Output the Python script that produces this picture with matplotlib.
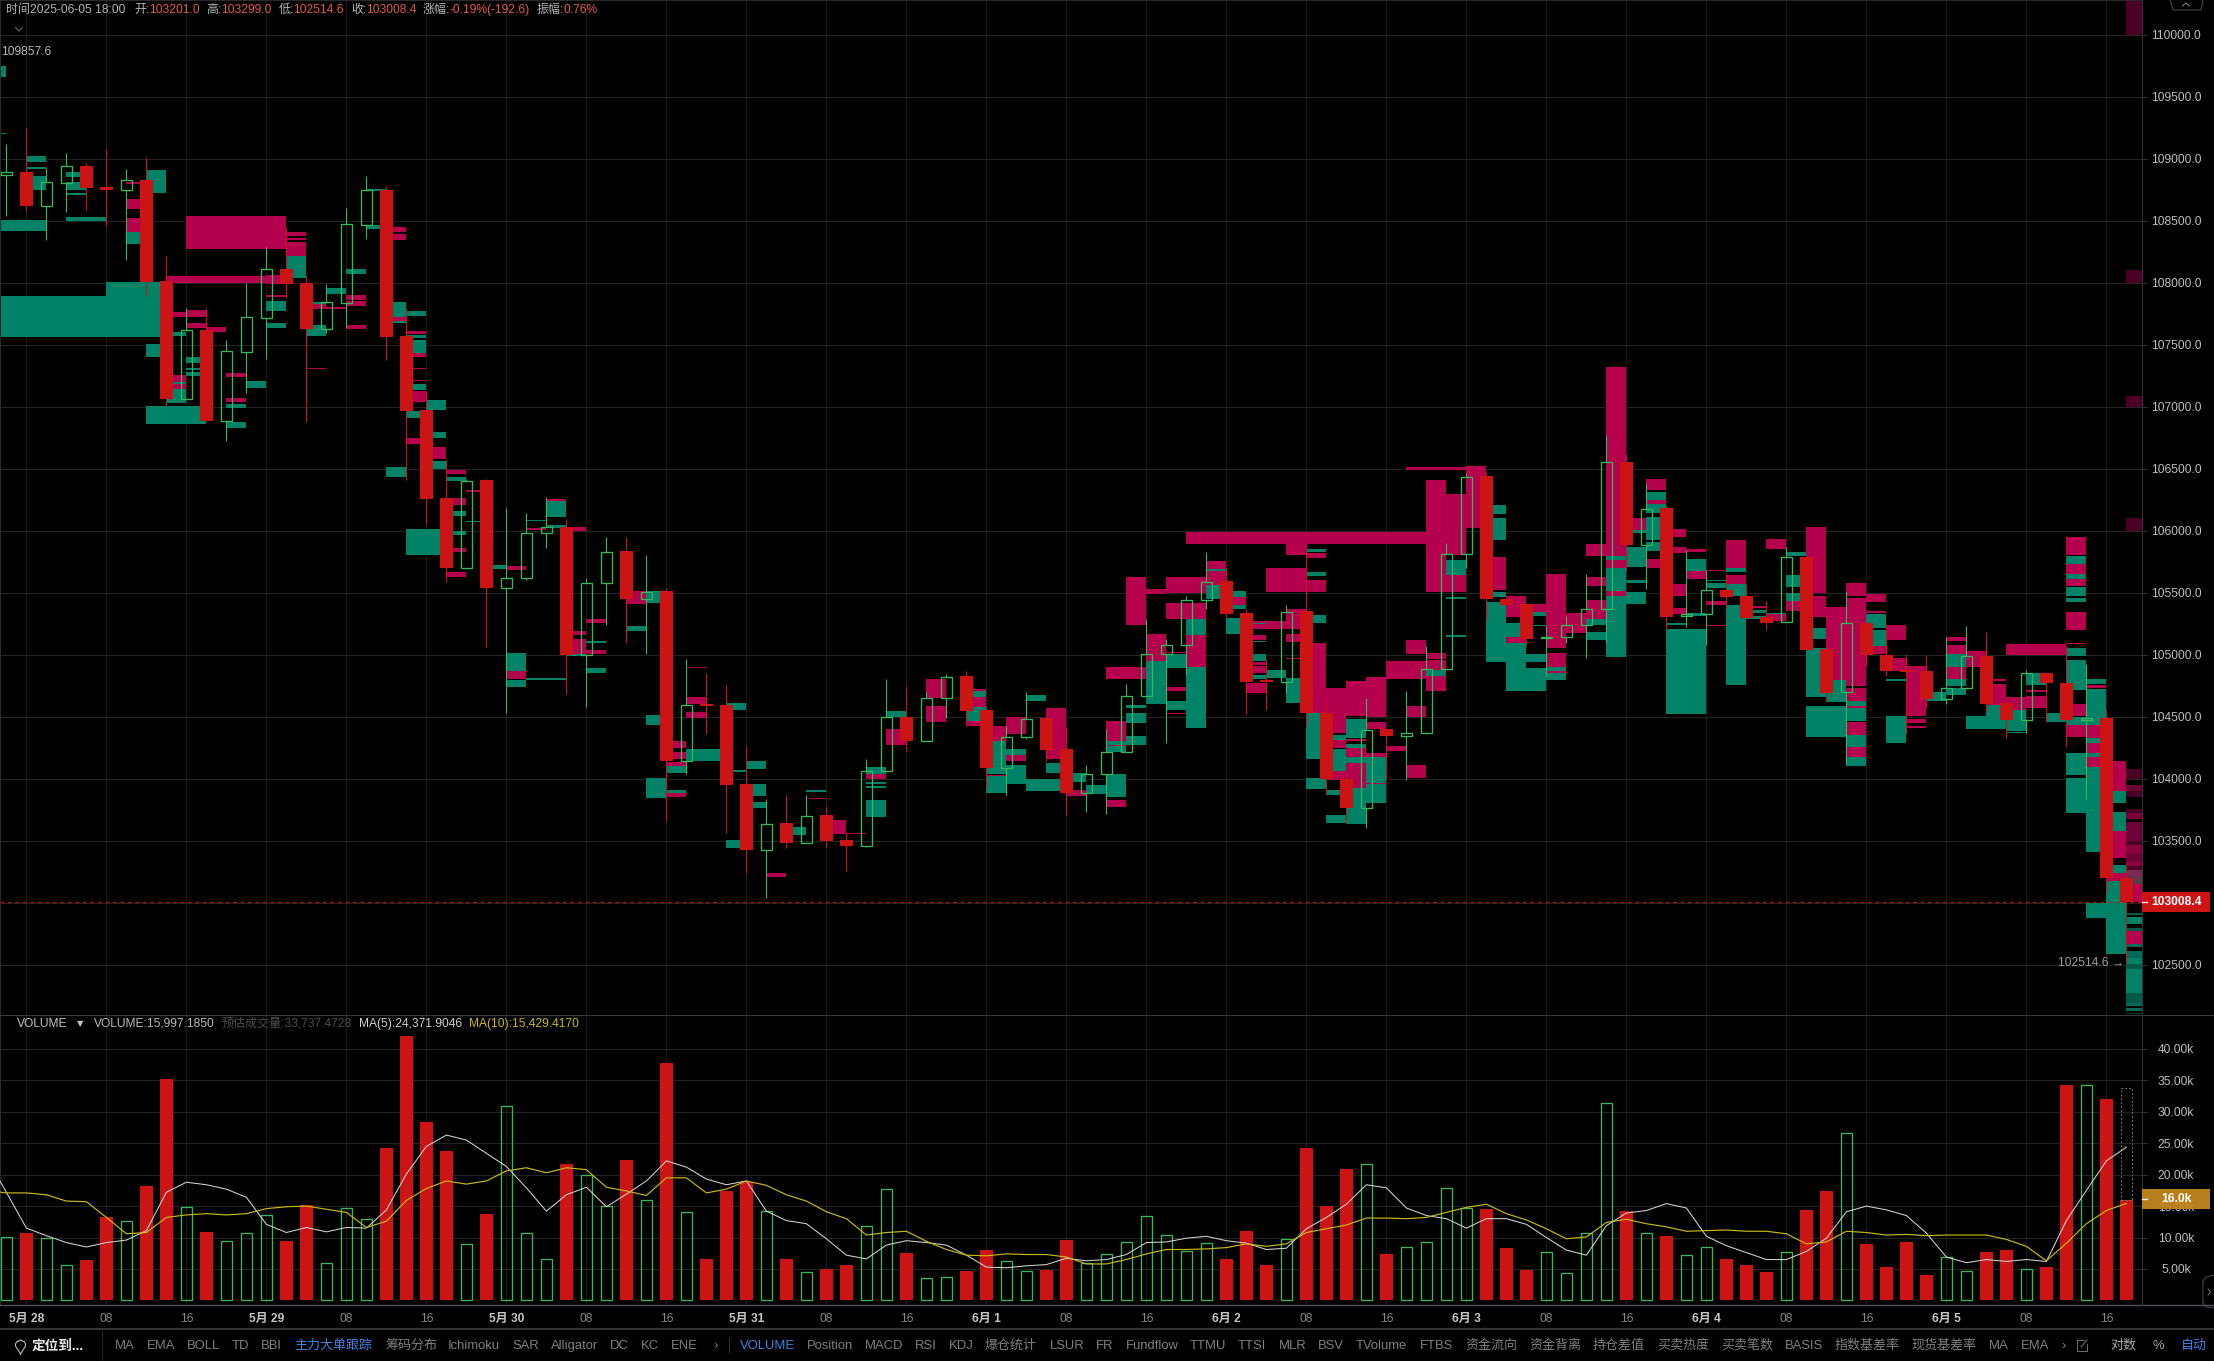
import numpy as np
import matplotlib
matplotlib.use("Agg")
import matplotlib.pyplot as plt
from matplotlib.lines import Line2D
from matplotlib.patches import Rectangle

plt.rcParams['font.family'] = ['Liberation Sans', 'Noto Sans CJK SC', 'DejaVu Sans']

# candles, index -1 .. 105 (2h bars, index 0 = 5月28 00:00)
opens = [108871, 108893, 108621, 108807, 108941, 108772, 108750, 108828, 108014, 107065, 107618, 106887, 107444, 107718, 108108, 107997, 107629, 107839, 108468, 108747,
         107570, 106973, 106261, 105699, 106406, 105538, 105618, 105981, 106032, 104997, 105578, 105833, 105449, 105511, 104143, 104600, 104592, 103954, 103428, 103640,
         103484, 103704, 103503, 103457, 104062, 104500, 104304, 104651, 104825, 104551, 104086, 104336, 104487, 104237, 103885, 104038, 104215, 104667, 105005, 105078,
         105441, 105592, 105333, 104793, 104780, 105350, 104532, 104000, 103764, 104398, 104344, 104368, 104884, 105810, 106440, 105448, 105408, 105132, 105140, 105237,
         105365, 106552, 105888, 106183, 105309, 105325, 105523, 105475, 105306, 105261, 105789, 105049, 104698, 105255, 104998, 104880, 104872, 104642, 104730, 104993,
         104607, 104473, 104853, 104773, 104476, 104492, 103201.0]
highs = [109118, 109255, 108927, 109043, 108962, 109078, 108917, 109016, 108215, 107793, 107793, 107538, 108000, 108290, 108452, 108062, 107987, 108600, 108863, 108780,
         107793, 107121, 106575, 106420, 106415, 106180, 106145, 106274, 106091, 105621, 105946, 105952, 105801, 105535, 104962, 104855, 104753, 104264, 103833, 103866,
         103866, 103777, 103565, 104156, 104807, 104747, 104702, 104841, 104866, 104586, 104425, 104702, 104490, 104411, 104110, 104398, 104766, 105290, 105124, 105473,
         105831, 105702, 105366, 104962, 105403, 105903, 104626, 104050, 104651, 104400, 104704, 105070, 105898, 106467, 106472, 105448, 105408, 105234, 105309, 105649,
         106775, 106622, 106381, 106207, 105845, 105684, 105650, 105569, 105430, 105872, 105789, 105049, 105510, 105255, 105250, 105009, 104987, 105140, 105229, 105186,
         104607, 104880, 104853, 105073, 104922, 104551, 103299.0]
lows = [108538, 108581, 108344, 108573, 108586, 108457, 108183, 107893, 107006, 107065, 106885, 106726, 107108, 107382, 107879, 106879, 107592, 107632, 108352, 107377,
        106409, 106056, 105586, 105690, 105059, 104527, 105602, 105858, 104686, 104575, 105242, 105097, 105003, 103656, 104035, 104358, 103559, 103237, 103038, 103438,
        103484, 103438, 103256, 103450, 104062, 104221, 104304, 104492, 104428, 103914, 103866, 104317, 104143, 103710, 103731, 103712, 104215, 104667, 104285, 104841,
        105366, 105293, 104524, 104554, 104694, 104425, 103866, 103640, 103605, 103989, 103989, 104368, 104884, 105703, 105282, 105403, 105068, 104827, 105095, 104971,
        105095, 105679, 105529, 105207, 105223, 105076, 105373, 105298, 105202, 105261, 105041, 104626, 104116, 104907, 104827, 104358, 104572, 104599, 104730, 104545,
        104331, 104371, 104457, 104258, 103833, 103081, 102514.6]
closes = [108893, 108621, 108809, 108938, 108764, 108750, 108825, 108008, 107062, 107616, 106885, 107446, 107721, 108108, 107989, 107626, 107841, 108471, 108745, 107562,
          106965, 106253, 105696, 106403, 105535, 105621, 105984, 106032, 104997, 105581, 105831, 105449, 105508, 104143, 104597, 104583, 103949, 103425, 103637, 103481,
          103702, 103497, 103454, 104065, 104500, 104301, 104653, 104823, 104543, 104083, 104339, 104484, 104229, 103882, 104040, 104218, 104669, 105008, 105081, 105444,
          105589, 105325, 104777, 104777, 105347, 104530, 103995, 103761, 104395, 104342, 104371, 104887, 105815, 106437, 105446, 105403, 105129, 105145, 105239, 105368,
          106550, 105885, 106172, 105306, 105328, 105521, 105467, 105298, 105255, 105786, 105041, 104695, 105255, 104995, 104867, 104864, 104642, 104733, 104993, 104601,
          104470, 104853, 104768, 104470, 104492, 103199, 103008.4]

# volume in thousands, same index as the candles
volumes = [10.1, 10.65, 9.96, 5.68, 6.37, 13.34, 12.65, 18.25, 35.2, 14.87, 10.96, 9.48, 10.75, 13.6, 9.38, 15.24, 6.0, 14.71, 12.97, 24.27,
           42.02, 28.34, 23.8, 9.0, 13.81, 31.0, 10.75, 6.63, 21.68, 19.94, 15.03, 22.37, 15.98, 37.75, 14.08, 6.52, 17.46, 18.78, 14.24, 6.52,
           4.57, 4.94, 5.57, 11.86, 17.72, 7.47, 3.62, 3.78, 4.62, 7.95, 6.31, 4.73, 4.78, 9.54, 6.0, 7.42, 9.32, 13.44, 10.43, 7.9,
           9.17, 6.52, 11.12, 5.57, 9.8, 24.27, 15.08, 20.94, 21.68, 7.32, 8.53, 9.32, 17.88, 14.71, 14.6, 8.27, 4.78, 7.74, 4.41, 10.75,
           31.35, 14.29, 10.75, 10.17, 7.26, 8.53, 6.52, 5.57, 4.46, 7.74, 14.45, 17.46, 26.6, 8.9, 5.26, 9.22, 3.99, 6.95, 4.73, 7.63,
           7.95, 5.05, 5.26, 34.26, 34.2, 32.0, 15.997]
volume_estimate = 33.737

# moving averages, index -2 .. 105
ma5 = [22.7, 17.2, 11.5, 10.3, 9.2, 8.5, 9.2, 9.6, 11.1, 17.2, 18.8, 18.4, 17.7, 16.4, 12.1, 10.8, 11.6, 10.9, 11.6, 11.5,
       14.4, 20.1, 24.5, 26.3, 25.5, 23.4, 21.3, 17.9, 14.2, 16.8, 18.0, 14.9, 16.9, 19.0, 22.2, 21.2, 19.3, 18.4, 19.0, 14.2,
       12.7, 12.2, 9.8, 7.2, 6.6, 8.8, 9.5, 9.2, 8.8, 7.2, 5.3, 5.2, 5.5, 5.7, 6.7, 6.3, 6.5, 7.3, 9.2, 9.3,
       9.9, 10.2, 9.5, 9.1, 8.1, 8.3, 11.4, 13.2, 15.3, 18.4, 17.9, 14.7, 13.5, 13.0, 11.5, 13.0, 13.0, 12.1, 10.0, 8.0,
       7.2, 11.9, 13.9, 14.3, 15.4, 14.7, 10.2, 8.7, 7.6, 6.5, 6.5, 7.8, 9.9, 14.1, 15.0, 14.4, 13.5, 10.7, 6.9, 6.0,
       6.5, 6.2, 6.5, 6.2, 12.7, 17.5, 22.2, 24.37]
ma10 = [17.5, 17.1, 17.1, 16.8, 15.8, 15.7, 13.2, 10.6, 10.8, 13.2, 13.6, 13.8, 13.6, 13.8, 14.6, 14.9, 15.0, 14.5, 14.0, 11.6,
        12.6, 15.9, 17.8, 19.0, 18.5, 19.0, 20.6, 21.1, 20.3, 21.1, 20.8, 18.0, 17.4, 16.7, 19.5, 19.5, 17.1, 17.7, 19.0, 18.3,
        16.8, 15.8, 14.1, 13.0, 10.4, 10.8, 11.0, 9.4, 8.1, 7.2, 7.1, 7.4, 7.3, 7.3, 6.9, 5.8, 5.8, 6.5, 7.4, 8.1,
        8.1, 8.2, 8.4, 9.0, 8.6, 9.0, 10.8, 11.4, 12.0, 13.1, 13.1, 13.0, 13.2, 14.0, 14.8, 15.3, 13.8, 12.8, 11.4, 9.8,
        10.1, 12.4, 12.9, 12.2, 11.7, 11.0, 11.1, 11.2, 11.0, 11.0, 10.6, 9.0, 9.3, 11.0, 10.8, 10.4, 10.5, 10.3, 10.4, 10.4,
        10.4, 9.7, 8.6, 6.3, 9.1, 12.2, 14.3, 15.43]

# big order blocks as (first bar, last bar, top price, bottom price)
buy_blocks = [
    (-2, -1, 109747, 109661), (-2, -1, 109207, 109196), (0, 1, 109022, 108976), (0, 1, 108930, 108917), (0, 1, 108860, 108747),
    (-2, 1, 108508, 108417), (2, 3, 108890, 108852), (2, 3, 108809, 108747), (2, 3, 108726, 108710), (2, 4, 108530, 108500),
    (5, 6, 108411, 108315), (6, 7, 108909, 108726), (13, 14, 108215, 108038), (-2, 7, 107893, 107559), (4, 7, 108005, 107893),
    (12, 13, 107852, 107772), (12, 13, 107675, 107635), (15, 16, 107957, 107911), (14, 15, 107656, 107573), (14, 15, 107847, 107828),
    (16, 17, 108108, 108073), (17, 18, 108753, 108737), (17, 18, 108468, 108436), (18, 19, 107844, 107726), (18, 19, 107688, 107672),
    (19, 20, 107769, 107734), (19, 20, 107578, 107551), (19, 20, 107535, 107433), (19, 20, 107180, 107135), (19, 20, 106968, 106912),
    (20, 21, 107054, 106971), (20, 21, 106793, 106745), (6, 7, 107505, 107398), (6, 9, 107006, 106858), (7, 8, 107140, 107032),
    (7, 8, 107202, 107183), (7, 8, 107605, 107573), (8, 9, 107398, 107355), (8, 9, 107309, 107296), (8, 9, 107280, 107250),
    (10, 11, 107022, 106989), (10, 11, 106874, 106831), (11, 12, 107207, 107153),
    (18, 19, 106511, 106433), (20, 21, 106564, 106500), (21, 22, 106433, 106398), (21, 22, 106156, 106116), (21, 22, 106000, 105968),
    (19, 21, 106011, 105801), (22, 23, 106081, 106070), (23, 24, 105726, 105691), (24, 25, 105011, 104866), (24, 25, 104796, 104737),
    (25, 27, 104809, 104796), (25, 26, 106089, 106078), (26, 27, 106237, 106113), (26, 27, 106043, 106021), (27, 28, 105003, 104989),
    (28, 29, 105108, 105097), (28, 29, 104890, 104852), (30, 31, 105229, 105194), (31, 32, 105516, 105417), (31, 32, 104511, 104433),
    (31, 32, 104003, 103841), (32, 33, 104102, 104043), (32, 33, 103909, 103882), (33, 35, 104237, 104145), (35, 36, 104608, 104554),
    (35, 36, 104070, 104054), (35, 36, 103503, 103441),
    (36, 37, 104143, 104081), (36, 37, 103954, 103860), (36, 37, 103809, 103763), (38, 39, 103608, 103549), (39, 40, 103906, 103895),
    (42, 43, 104091, 104035), (42, 43, 103970, 103954), (42, 43, 103938, 103922), (42, 43, 103825, 103691), (43, 44, 104543, 104500),
    (47, 48, 104707, 104661), (47, 48, 104581, 104465), (48, 49, 104304, 104035), (48, 49, 104022, 103887), (49, 50, 104237, 104194),
    (49, 50, 104113, 103954), (50, 51, 104677, 104624), (50, 52, 104000, 103898), (51, 52, 104129, 104043), (52, 53, 104043, 103973),
    (53, 54, 103949, 103874), (54, 55, 104040, 103855), (54, 55, 104304, 104269), (54, 55, 104261, 104218), (55, 56, 104594, 104567),
    (55, 56, 104527, 104446), (55, 56, 104344, 104269), (56, 57, 104952, 104600), (57, 58, 105003, 104890), (57, 58, 104629, 104551),
    (58, 59, 105290, 105156), (58, 59, 104901, 104409), (59, 60, 105691, 105677), (59, 60, 105559, 105452), (60, 61, 105511, 105468),
    (60, 61, 105403, 105368), (60, 61, 105296, 105167), (61, 62, 105253, 105245), (61, 62, 105113, 105100), (61, 62, 105008, 104946),
    (61, 62, 104836, 104801), (64, 65, 105850, 105825), (64, 65, 105669, 105635), (62, 63, 104874, 104809), (63, 64, 104809, 104613),
    (64, 65, 105320, 105253), (64, 65, 104532, 104156), (64, 65, 104003, 103914), (65, 66, 104355, 104312), (65, 66, 104242, 104062),
    (65, 66, 103906, 103871), (65, 66, 103710, 103640), (66, 67, 104479, 104331), (66, 67, 104277, 104250), (66, 67, 104178, 104129),
    (66, 67, 103927, 103632), (67, 68, 104178, 103962), (67, 68, 103954, 103806), (70, 71, 104876, 104828), (71, 72, 105761, 105645),
    (71, 72, 105462, 105449), (71, 72, 105161, 105142),
    (73, 74, 106204, 106134), (73, 74, 106102, 105925), (73, 74, 105507, 105464), (73, 74, 105429, 104939), (74, 75, 105252, 105140),
    (74, 75, 105094, 104706), (75, 76, 105346, 105309), (75, 76, 105242, 105228), (75, 76, 105006, 104939), (75, 76, 104893, 104706),
    (76, 77, 104901, 104872), (76, 77, 104853, 104794), (78, 79, 105287, 105239), (78, 79, 105185, 105121), (79, 80, 105799, 105764),
    (79, 80, 105700, 105510), (79, 80, 105475, 104979), (80, 81, 106005, 105979), (80, 81, 105871, 105705), (80, 81, 105603, 105577),
    (80, 81, 105504, 105410), (81, 82, 106314, 106247), (81, 82, 106214, 106139), (81, 82, 106107, 105925), (81, 82, 105912, 105839),
    (82, 83, 105255, 105242), (82, 84, 105207, 104518), (83, 84, 105772, 105678), (83, 84, 105335, 105309), (84, 85, 105603, 105593),
    (84, 85, 105582, 105536), (85, 86, 105700, 105665), (85, 86, 105571, 105475), (85, 86, 105402, 104759), (86, 87, 105362, 105335),
    (86, 87, 105309, 105287), (87, 88, 105335, 105327), (88, 89, 105826, 105796), (88, 89, 105643, 105544), (88, 89, 105496, 105435),
    (89, 90, 105217, 105129), (89, 90, 105054, 104660), (89, 91, 104590, 104338), (90, 91, 104799, 104620), (91, 92, 104625, 104585),
    (91, 92, 104569, 104462), (91, 92, 104352, 104255), (91, 92, 104175, 104102), (92, 93, 105330, 105215), (92, 93, 105196, 105073),
    (93, 94, 104807, 104789), (93, 94, 104505, 104285), (95, 96, 104698, 104625), (96, 97, 105008, 104901), (96, 97, 104805, 104751),
    (96, 97, 104735, 104671), (97, 99, 104505, 104398), (98, 99, 104598, 104398), (99, 100, 104558, 104384), (99, 100, 104376, 104365),
    (100, 101, 104853, 104759), (101, 102, 104526, 104456), (102, 103, 105796, 105732), (102, 103, 105649, 105609), (102, 103, 105550, 105475),
    (102, 103, 105456, 105429), (102, 103, 105057, 104992), (102, 103, 104955, 104719), (102, 103, 104500, 104435), (102, 103, 104204, 104032),
    (102, 103, 104008, 103720), (103, 104, 104805, 104765), (103, 104, 104727, 104430), (103, 104, 104331, 104285), (103, 104, 104204, 104177),
    (103, 104, 104091, 103409), (103, 104, 103000, 102876), (104, 105, 103903, 103804), (104, 105, 103734, 103578), (104, 105, 103304, 103242),
    (104, 105, 103175, 102583),
]
sell_blocks = [
    (5, 6, 108812, 108793), (5, 6, 108678, 108592), (5, 6, 108519, 108411), (8, 13, 108538, 108274), (13, 14, 108406, 108377),
    (13, 14, 108363, 108344), (13, 14, 108331, 108215), (7, 13, 108054, 108000), (7, 9, 107761, 107721), (8, 9, 107780, 107726),
    (8, 9, 107672, 107637), (9, 10, 107643, 107602), (12, 13, 107901, 107885), (12, 13, 108062, 107992), (14, 15, 107833, 107785),
    (15, 16, 107804, 107788), (16, 17, 107903, 107863), (16, 17, 107852, 107815), (16, 17, 107656, 107629), (18, 19, 108449, 108409),
    (18, 19, 108395, 108347), (18, 19, 107726, 107688), (19, 20, 107613, 107586), (19, 20, 107433, 107398), (19, 20, 107309, 107301),
    (19, 20, 107215, 107205), (19, 20, 107129, 107040), (19, 20, 106747, 106702), (20, 21, 106672, 106575), (7, 8, 107256, 107202),
    (7, 8, 107183, 107143), (10, 11, 107269, 107237), (10, 11, 107073, 107040), (14, 15, 107312, 107304),
    (21, 22, 106486, 106457), (21, 22, 106261, 106207), (21, 22, 105860, 105828), (21, 22, 105664, 105626), (22, 23, 106325, 106312),
    (24, 25, 105712, 105683), (24, 25, 104866, 104801), (25, 26, 106024, 106005), (26, 27, 106253, 106237), (27, 28, 106027, 105997),
    (27, 28, 105188, 105156), (27, 28, 105124, 105003), (28, 29, 105285, 105255), (28, 29, 105038, 105003), (30, 31, 105511, 105406),
    (32, 33, 104301, 104245), (32, 33, 104212, 104161), (32, 33, 104135, 104102), (32, 33, 103882, 103855), (33, 34, 104903, 104890),
    (33, 34, 104661, 104605), (33, 34, 104535, 104487),
    (37, 38, 103237, 103204), (39, 40, 103841, 103833), (40, 41, 103669, 103556), (41, 42, 103565, 103551), (42, 43, 104035, 104000),
    (43, 44, 104398, 104272), (45, 46, 104801, 104653), (45, 46, 104589, 104460), (47, 48, 104726, 104707), (47, 48, 104661, 104581),
    (47, 48, 104465, 104427), (48, 49, 104425, 104304), (48, 49, 104032, 104022), (49, 50, 104497, 104358), (49, 50, 104191, 104143),
    (51, 52, 104567, 104156), (52, 53, 103906, 103857), (54, 55, 103825, 103772), (54, 55, 104468, 104304), (54, 55, 104269, 104261),
    (54, 56, 104901, 104807), (56, 57, 105164, 104952), (55, 56, 105626, 105242), (56, 57, 105527, 105492), (57, 59, 105626, 105500),
    (57, 59, 105414, 105290), (58, 59, 105156, 104901), (57, 58, 105024, 105016), (57, 58, 104737, 104704), (57, 58, 104532, 104519),
    (59, 60, 105753, 105691), (59, 60, 105677, 105559), (60, 61, 105468, 105403), (61, 63, 105272, 105210), (61, 62, 105159, 105116),
    (61, 62, 104944, 104917), (61, 62, 104909, 104850), (61, 62, 104774, 104694), (62, 64, 105699, 105505), (63, 64, 105903, 105806),
    (64, 65, 105817, 105782), (64, 65, 105599, 105505), (63, 64, 105366, 105210), (63, 64, 105167, 105100), (63, 64, 104973, 104965),
    (64, 65, 105097, 104532), (65, 66, 104734, 104371), (66, 67, 104788, 104505), (67, 68, 104823, 104500), (68, 70, 104949, 104806),
    (65, 66, 104312, 104250), (65, 66, 104062, 103989), (66, 67, 104317, 104304), (66, 67, 104250, 104178), (66, 67, 104129, 103927),
    (67, 68, 104457, 104398), (67, 68, 104204, 104178), (67, 68, 103962, 103954), (68, 69, 104263, 104223), (69, 70, 104583, 104500),
    (69, 70, 104113, 104005), (69, 70, 105118, 105005), (70, 71, 105016, 104968), (70, 71, 104954, 104876), (70, 71, 104828, 104707),
    (58, 70, 105992, 105895),
    (69, 72, 106515, 106493), (70, 71, 106410, 105502), (71, 72, 106300, 105804), (71, 72, 105641, 105502), (72, 73, 106525, 106019),
    (73, 74, 105786, 105523), (74, 75, 105475, 105301), (74, 75, 105140, 105094), (75, 76, 105408, 105346), (76, 77, 105649, 105051),
    (76, 77, 105017, 104901), (76, 77, 104866, 104853), (77, 78, 105335, 105175), (78, 79, 105890, 105799), (78, 79, 105627, 105558),
    (78, 79, 105443, 105287), (79, 80, 107319, 105799), (79, 80, 105764, 105700), (79, 80, 105510, 105475), (80, 81, 106105, 106005),
    (81, 82, 106413, 106327), (81, 82, 106247, 106214), (81, 82, 105772, 105703), (82, 83, 106011, 105946), (82, 83, 105866, 105818),
    (82, 83, 105569, 105475), (82, 83, 105376, 105330), (83, 84, 105850, 105831), (83, 84, 105678, 105609), (84, 85, 105684, 105673),
    (84, 85, 105435, 105402), (84, 85, 105242, 105234), (85, 86, 105925, 105700), (85, 86, 105646, 105571), (86, 87, 105389, 105373),
    (87, 88, 105930, 105853), (87, 88, 105330, 105274), (88, 89, 105435, 105354), (89, 90, 106027, 105496), (89, 90, 105475, 105303),
    (90, 91, 105384, 104799), (91, 92, 105582, 105475), (91, 92, 105459, 104751), (91, 92, 104735, 104625), (91, 92, 104585, 104569),
    (91, 92, 104459, 104352), (91, 92, 104255, 104175), (92, 93, 105491, 105426), (92, 93, 105349, 105335), (92, 93, 105073, 105008),
    (93, 94, 105242, 105116), (93, 94, 104974, 104866), (94, 95, 104912, 104505), (94, 95, 104483, 104446), (94, 95, 104424, 104408),
    (96, 97, 105142, 105108), (96, 97, 105075, 105008), (96, 97, 104901, 104805), (96, 97, 104751, 104746), (97, 98, 105030, 104901),
    (98, 99, 104805, 104786), (98, 99, 104767, 104598), (99, 102, 105083, 105000), (99, 100, 104660, 104558), (100, 101, 104719, 104703),
    (100, 101, 104665, 104569), (102, 103, 105952, 105804), (102, 103, 105732, 105649), (102, 103, 105609, 105555), (102, 103, 105429, 105421),
    (102, 103, 105343, 105201), (102, 103, 105094, 105086), (102, 103, 104606, 104505), (102, 103, 104430, 104339), (103, 104, 104759, 104730),
    (103, 104, 104430, 104331), (103, 104, 104285, 104204), (103, 104, 104177, 104091), (104, 105, 104142, 103903), (104, 105, 103578, 103363),
    (104, 105, 103242, 103175),
]

# faded order rows in the live bar: (top price, bottom price, colour)
live_rows = [
    (110270, 110000, '#4a0026'), (108100, 108000, '#4a0026'), (107088, 107000, '#4a0026'), (106105, 106000, '#4a0026'),
    (104081, 103995, '#4a0026'), (103946, 103898, '#6a0034'), (103898, 103855, '#4a0026'), (103753, 103726, '#4a0026'),
    (103726, 103677, '#7a0039'), (103651, 103497, '#6e0038'), (103497, 103462, '#450022'), (103462, 103403, '#8a0040'),
    (103403, 103336, '#6e0035'), (103336, 103296, '#8a0040'), (103296, 103263, '#4a0025'), (103263, 103210, '#7a2a50'),
    (103210, 103148, '#5a3a4a'), (103148, 103005, '#b5004e'), (102919, 102903, '#005a48'), (102887, 102828, '#008266'),
    (102796, 102772, '#005a48'), (102772, 102664, '#b5004e'), (102664, 102645, '#006a55'), (102610, 102556, '#006a55'),
    (102556, 102503, '#008266'), (102503, 102462, '#005a48'), (102462, 102274, '#008266'), (102274, 102194, '#005a48'),
    (102194, 102167, '#006a55'), (102153, 102126, '#006a55'), (102107, 102100, '#003a2e'),
]

price_ticks = np.arange(102500, 110500, 500)
volume_ticks = np.arange(5, 45, 5)
date_labels = ['5月 28', '08', '16', '5月 29', '08', '16', '5月 30', '08', '16', '5月 31', '08', '16', '6月 1', '08', '16',
               '6月 2', '08', '16', '6月 3', '08', '16', '6月 4', '08', '16', '6月 5', '08', '16']

header_parts = [('时间:', 5.7, 'l'), ('2025-06-05 18:00', 30, 'l'), ('开:', 134.5, 'l'), ('103201.0', 149, 'v'), ('高:', 206, 'l'), ('103299.0', 221, 'v'),
                ('低:', 278.4, 'l'), ('102514.6', 293.5, 'v'), ('收:', 351, 'l'), ('103008.4', 365.7, 'v'), ('涨幅:', 422.4, 'l'),
                ('-0.19%(-192.6)', 449.7, 'v'), ('振幅:', 536.6, 'l'), ('0.76%', 563, 'v')]
legend_parts = [('VOLUME', 17, '#c4c4c4'), ('VOLUME:15,997.1850', 94.4, '#b9b9b9'), ('预估成交量:33,737.4728', 221.8, '#4d4d4d'),
                ('MA(5):24,371.9046', 358.7, '#cfcfcf'), ('MA(10):15,429.4170', 468.6, '#c9b818')]
toolbar_names = ['MA', 'EMA', 'BOLL', 'TD', 'BBI', '主力大单跟踪', '筹码分布', 'Ichimoku', 'SAR', 'Alligator', 'DC', 'KC', 'ENE', '›',
                 'VOLUME', 'Position', 'MACD', 'RSI', 'KDJ', '爆仓统计', 'LSUR', 'FR', 'Fundflow', 'TTMU', 'TTSI', 'MLR', 'BSV', 'TVolume', 'FTBS',
                 '资金流向', '资金背离', '持仓差值', '买卖热度', '买卖笔数', 'BASIS', '指数基差率', '现货基差率', 'MA', 'EMA', '›', '对数', '%', '自动']
toolbar_x = [115, 147, 187, 232, 261, 294, 385, 448, 512.5, 551, 610, 641, 671, 713, 740, 806.5, 865, 915, 949, 985, 1049.6, 1096, 1125.6, 1190, 1238,
             1278.5, 1318, 1356, 1419.6, 1465, 1529, 1593, 1657, 1721, 1784.5, 1834.5, 1911.5, 1989, 2020.5, 2061, 2110, 2152.6, 2180.5]
toolbar_blue = ['主力大单跟踪', 'VOLUME', '自动']

W, H = 2214, 1361
RED = '#cc1414'
GREEN = '#35b75a'
TEAL = '#008266'
PINK = '#b5004e'
AXIS_RIGHT = 2141.6


def fx(px):
    return px / W


def fy(py):
    return 1 - py / H


def fig_text(x, y, s, **kw):
    kw.setdefault('va', 'center')
    kw.setdefault('fontsize', 8.64)
    fig.text(fx(x), fy(y), s, **kw)


def fig_line(xs, ys, color, lw=0.8, **kw):
    fig.add_artist(Line2D([fx(x) for x in xs], [fy(y) for y in ys], color=color, lw=lw, **kw))


fig = plt.figure(figsize=(W / 100, H / 100), dpi=100, facecolor='black')
ax = fig.add_axes([0, fy(1015), fx(AXIS_RIGHT), 1015 / H], facecolor='black')
vol = fig.add_axes([0, fy(1305), fx(AXIS_RIGHT), 290 / H], facecolor='black')

index = np.arange(-1, 106)
hour_ticks = np.arange(0, 106, 4)
for a in (ax, vol):
    a.set_xlim(-1.32, 105.76)
    a.set_axisbelow(True)
    a.grid(axis='x', color='#1b1b1b', lw=0.72)
    a.grid(axis='y', color='#242424', lw=0.72)
    a.set_xticks(hour_ticks)
    a.yaxis.tick_right()
    for side in a.spines:
        a.spines[side].set_color('#2a2a2a')
        a.spines[side].set_linewidth(0.72)

ax.set_ylim(102094.4, 110279.8)
vol.set_ylim(-0.73, 45.4)

# order blocks behind the candles
for blocks, colour in ((sell_blocks, PINK), (buy_blocks, TEAL)):
    for start, end, top, bottom in blocks:
        ax.bar(start, top - bottom, end - start, bottom, align='edge', color=colour, linewidth=0, zorder=2)
for top, bottom, colour in live_rows:
    ax.bar(105, top - bottom, 0.76, bottom, align='edge', color=colour, linewidth=0, zorder=2)

ax.axhline(closes[-1], color=RED, lw=0.9, ls=(0, (3, 3)), alpha=0.85, zorder=2.5)

# candles: falling filled red, rising hollow green
for i, o, h, l, c in zip(index, opens, highs, lows, closes):
    top, bottom = max(o, c), min(o, c)
    if c < o:
        ax.vlines(i, l, h, color=RED, lw=0.8, zorder=3)
        ax.bar(i, top - bottom, 0.67, bottom, color=RED, linewidth=0, zorder=3)
    else:
        ax.vlines(i, top, h, color=GREEN, lw=0.8, zorder=3)
        ax.vlines(i, l, bottom, color=GREEN, lw=0.8, zorder=3)
        ax.bar(i, top - bottom, 0.56, bottom, facecolor='none', edgecolor=GREEN, linewidth=0.95, zorder=3)

ax.set_yticks(price_ticks)
ax.set_yticklabels([f'{p:.1f}' for p in price_ticks])
ax.tick_params(axis='y', length=3.6, width=0.72, color='#333333', labelcolor='#bdbdbd', labelsize=8.64, pad=21.2)
ax.tick_params(axis='x', length=0, labelbottom=False)
for lab in ax.get_yticklabels():
    lab.set_ha('center')

ax.text(-1.28, 109857.6, '109857.6', color='#b5b5b5', fontsize=8.64, va='center', ha='left')
ax.annotate('102514.6 →', xy=(105, lows[-1]), xytext=(-3, 0), textcoords='offset pixels', color='#9c9c9c',
            fontsize=8.64, va='center', ha='right', zorder=6)

# volume panel
for i, v, o, c in zip(index, volumes, opens, closes):
    if c < o:
        vol.bar(i, v, 0.67, color=RED, linewidth=0, zorder=3)
    else:
        vol.bar(i, v, 0.56, facecolor='none', edgecolor=GREEN, linewidth=0.95, zorder=3)
vol.bar(105, volume_estimate - volumes[-1], 0.56, volumes[-1], facecolor='none', edgecolor='#777777', linewidth=0.7,
        linestyle=(0, (2, 2)), zorder=3)
ma_index = np.arange(-2, 106)
vol.plot(ma_index, ma5, color='#d4d4d4', lw=0.75, zorder=4)
vol.plot(ma_index, ma10, color='#c8b814', lw=0.85, zorder=4)

vol.set_yticks(volume_ticks)
vol.set_yticklabels([f'{v:.2f}k' for v in volume_ticks])
vol.tick_params(axis='y', length=3.6, width=0.72, color='#333333', labelcolor='#bdbdbd', labelsize=8.64, pad=21.2)
for lab in vol.get_yticklabels():
    lab.set_ha('center')
vol.set_xticklabels(date_labels)
vol.tick_params(axis='x', length=0, pad=5.5, labelsize=8.64)
for lab, name in zip(vol.get_xticklabels(), date_labels):
    if '月' in name:
        lab.set_color('#c6c6c6')
        lab.set_fontweight('bold')
    else:
        lab.set_color('#858585')

# header and legend rows
for text, x, kind in header_parts:
    fig_text(x, 10, text, color='#b4b4b4' if kind == 'l' else '#e05a45')
fig_line([15.5, 19, 22.5], [27.5, 31, 27.5], '#777777', 0.7)
for text, x, colour in legend_parts:
    fig_text(x, 1023.7, text, color=colour)
fig.text(fx(80), fy(1024), '▼', color='#c4c4c4', fontsize=6, ha='center', va='center', family='DejaVu Sans')

# panel separators
fig_line([0, W], [1015.3, 1015.3], '#3a3a3a', 0.8)
fig_line([0, W], [1305, 1305], '#50535a', 1)
fig_line([0, W], [1329, 1329], '#333333', 1.5)
fig_line([AXIS_RIGHT, AXIS_RIGHT], [0, 1305], '#333333', 0.72)
fig_line([102.4, 102.4], [1331, 1361], '#222222', 0.72)
fig_line([729, 729], [1338, 1352], '#333333', 0.72)

# price and volume tags
fig.add_artist(Rectangle((fx(AXIS_RIGHT), fy(911.7)), fx(68.4), 19.7 / H, facecolor='#cc1414', linewidth=0, zorder=5))
fig_text(2176, 902, '103008.4', color='white', fontweight='bold', ha='center', zorder=6)
fig_line([AXIS_RIGHT, 2147], [902, 902], 'white', 0.9, zorder=6)
fig.add_artist(Rectangle((fx(AXIS_RIGHT), fy(1209)), fx(68.4), 20 / H, facecolor='#c68a1e', alpha=0.93, linewidth=0, zorder=5))
fig_text(2176, 1199, '16.0k', color='white', fontweight='bold', ha='center', zorder=6)
fig_line([AXIS_RIGHT, 2147], [1199, 1199], 'white', 0.9, zorder=6)

# bottom toolbar
fig_text(31.6, 1346, '定位到...', color='#e8e8e8', fontweight='bold', fontsize=9.8)
fig_line([20.5, 15.5, 15.5, 16.5, 20.5, 24.5, 25.5, 25.5, 20.5], [1354, 1346, 1344, 1342, 1340, 1342, 1344, 1346, 1354], '#bbbbbb', 0.8)
for name, x in zip(toolbar_names, toolbar_x):
    colour = '#3f83e0' if name in toolbar_blue else '#7f7f7f'
    if x >= 2100 and name in ('对数', '%'):
        colour = '#a8a8a8'
    fig_text(x, 1345.7, name, color=colour, fontsize=9.36)
fig_line([2084, 2077, 2077, 2087, 2087], [1340, 1340, 1351, 1351, 1344], '#666666', 0.8)
fig_line([2081, 2087], [1347, 1340], '#666666', 0.8)

# collapse handles
fig_line([2170, 2173, 2201, 2203], [0, 10, 10, 0], '#444444', 0.8)
fig_line([2182.5, 2186, 2189.5], [6, 3, 6], '#888888', 0.7)
fig_line([W, 2206, 2203, 2203, 2206, W], [1275, 1277, 1281, 1303, 1307, 1308], '#444444', 0.8)
fig_line([2208, 2210.5, 2208], [1289, 1292, 1295], '#777777', 0.7)

fig.savefig('out.png', dpi=100, facecolor='black')
